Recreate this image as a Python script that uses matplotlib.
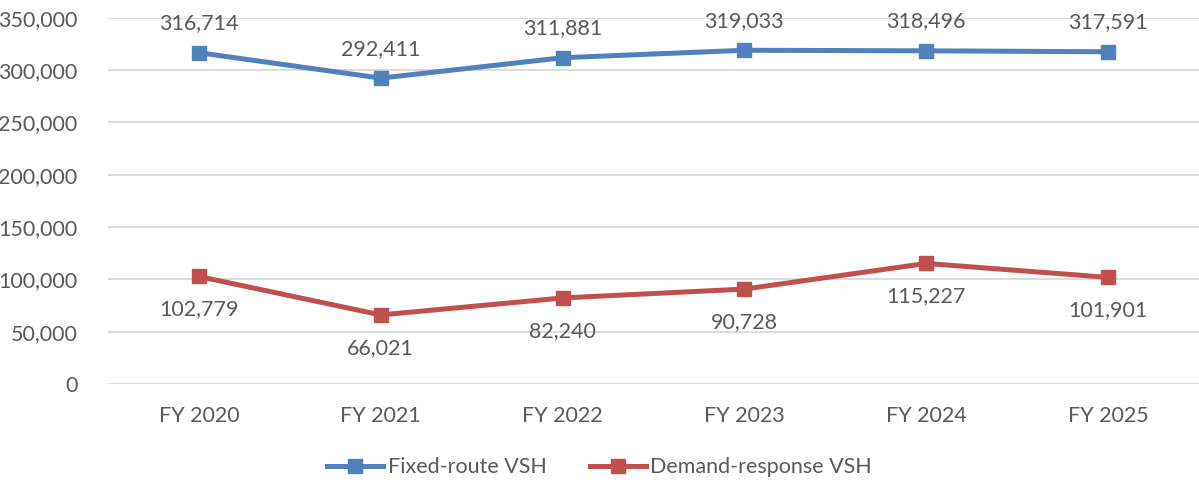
import matplotlib
matplotlib.use("Agg")
import matplotlib.pyplot as plt
from matplotlib.ticker import FuncFormatter

categories = ["FY 2020", "FY 2021", "FY 2022", "FY 2023", "FY 2024", "FY 2025"]
fixed_route = [316714, 292411, 311881, 319033, 318496, 317591]
demand_response = [102779, 66021, 82240, 90728, 115227, 101901]
series_names = ["Fixed-route VSH", "Demand-response VSH"]

plt.rcParams['font.family'] = ['Lato', 'DejaVu Sans']
TXT = '#595959'
BLUE = '#4F81BD'
RED = '#C0504D'

fig = plt.figure(figsize=(11.99, 4.83), dpi=100)
ax = fig.add_axes([0.09, 0.205, 0.91, 0.758])
x = list(range(len(categories)))
ax.plot(x, fixed_route, color=BLUE, lw=3.6, marker='s', ms=10, label=series_names[0], zorder=3)
ax.plot(x, demand_response, color=RED, lw=3.6, marker='s', ms=10, label=series_names[1], zorder=3)

for xi, v in zip(x, fixed_route):
    ax.annotate(f"{v:,}", (xi, v), xytext=(0, 14), textcoords='offset points',
                ha='center', va='bottom', fontsize=15.5, color=TXT, annotation_clip=False)
for xi, v in zip(x, demand_response):
    ax.annotate(f"{v:,}", (xi, v), xytext=(0, -16.5), textcoords='offset points',
                ha='center', va='top', fontsize=15.5, color=TXT)

ax.set_xlim(-0.5, len(categories) - 0.5)
ax.set_ylim(0, 350000)
ax.set_yticks(range(0, 350001, 50000))
ax.yaxis.set_major_formatter(FuncFormatter(lambda v, p: f"{int(v):,}"))
ax.set_xticks(x)
ax.set_xticklabels(categories)
ax.grid(axis='y', color='#D9D9D9', lw=1.3)
ax.set_axisbelow(True)
for s in ax.spines.values():
    s.set_visible(False)
ax.tick_params(axis='both', length=0, labelsize=15.5, colors=TXT)
ax.tick_params(axis='y', pad=22)
ax.tick_params(axis='x', pad=16)

leg = fig.legend(loc='center', bbox_to_anchor=(0.5, 0.033), ncol=2, frameon=False,
                 fontsize=15.5, handlelength=2.6, columnspacing=2.0, handletextpad=0.2)
for t in leg.get_texts():
    t.set_color(TXT)

fig.savefig("out.png", dpi=100)
